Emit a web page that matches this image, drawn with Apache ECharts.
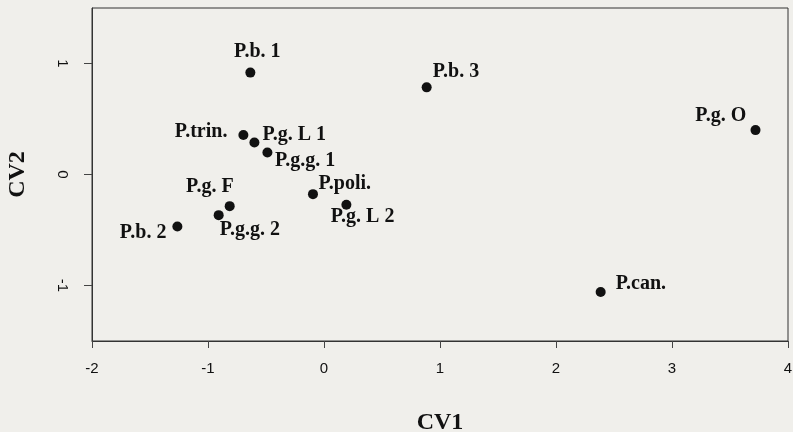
<!DOCTYPE html>
<html>
<head>
<meta charset="utf-8">
<script src="https://cdn.jsdelivr.net/npm/echarts@6/dist/echarts.min.js"></script>
<style>
html,body{margin:0;padding:0;background:#f0efeb;}
#c{width:793px;height:432px;}
</style>
</head>
<body>
<div id="c"></div>
<script>
// Data
var names = ['P.b. 1','P.trin.','P.g. L 1','P.g.g. 1','P.poli.','P.g. L 2','P.g.g. 2','P.g. F','P.b. 2','P.b. 3','P.g. O','P.can.'];
var cv1 = [-0.635,-0.695,-0.60,-0.488,-0.095,0.193,-0.908,-0.813,-1.264,0.885,3.72,2.385];
var cv2 = [0.918,0.356,0.289,0.199,-0.177,-0.273,-0.366,-0.285,-0.469,0.785,0.40,-1.058];
var xTicks = [-2,-1,0,1,2,3,4];
var yTicks = [-1,0,1];

// Label placement (style only): [align, dx, dy]
var labelPlace = [
  ['center',7,-21],
  ['right',-16,-3],
  ['left',8,-8],
  ['left',7.5,8.5],
  ['left',5.5,-10],
  ['left',-15.7,12.5],
  ['left',1,15],
  ['right',4,-19],
  ['right',-11,6],
  ['left',6,-15.7],
  ['right',-9.3,-14],
  ['left',15,-8.5]
];

var serif = '"Liberation Serif","Times New Roman",serif';
var sans = '"Liberation Sans",Arial,sans-serif';

var data = names.map(function(n,i){
  var p = labelPlace[i];
  return {
    name: n,
    value: [cv1[i], cv2[i]],
    label: {
      show: true,
      position: 'inside',
      align: p[0],
      verticalAlign: 'middle',
      offset: [p[1], p[2]],
      formatter: n,
      color: '#111',
      fontFamily: serif,
      fontWeight: 'bold',
      fontSize: 20
    }
  };
});

var chart = echarts.init(document.getElementById('c'), null, {renderer:'canvas'});
chart.setOption({
  backgroundColor: '#f0efeb',
  animation: false,
  grid: {
    left: 92, right: 5, top: 8, bottom: 91,
    outerBoundsMode: 'none', containLabel: false,
    show: true, borderColor: '#333', borderWidth: 1, backgroundColor: 'transparent'
  },
  xAxis: {
    type: 'value', min: -2, max: 4, interval: 1,
    name: 'CV1', nameLocation: 'middle', nameGap: 70,
    nameTextStyle: {fontFamily: serif, fontWeight: 'bold', fontSize: 24, color: '#111'},
    axisLine: {show: true, onZero: false, lineStyle: {color: '#333'}},
    axisTick: {show: true, inside: false, length: 7, lineStyle: {color: '#444'}, customValues: xTicks},
    axisLabel: {color: '#111', fontFamily: sans, fontSize: 15, margin: 20, customValues: xTicks},
    splitLine: {show: false}
  },
  yAxis: {
    type: 'value', min: -1.5, max: 1.5,
    name: 'CV2', nameLocation: 'middle', nameGap: 62, nameRotate: 90,
    nameTextStyle: {fontFamily: serif, fontWeight: 'bold', fontSize: 24, color: '#111'},
    axisLine: {show: true, onZero: false, lineStyle: {color: '#333'}},
    axisTick: {show: true, inside: false, length: 8, lineStyle: {color: '#444'}, customValues: yTicks},
    axisLabel: {color: '#111', fontFamily: sans, fontSize: 15, margin: 22, rotate: -90, customValues: yTicks},
    splitLine: {show: false}
  },
  series: [{
    type: 'scatter',
    symbol: 'circle',
    symbolSize: 10,
    itemStyle: {color: '#111', opacity: 1},
    data: data
  }]
});
</script>
</body>
</html>
